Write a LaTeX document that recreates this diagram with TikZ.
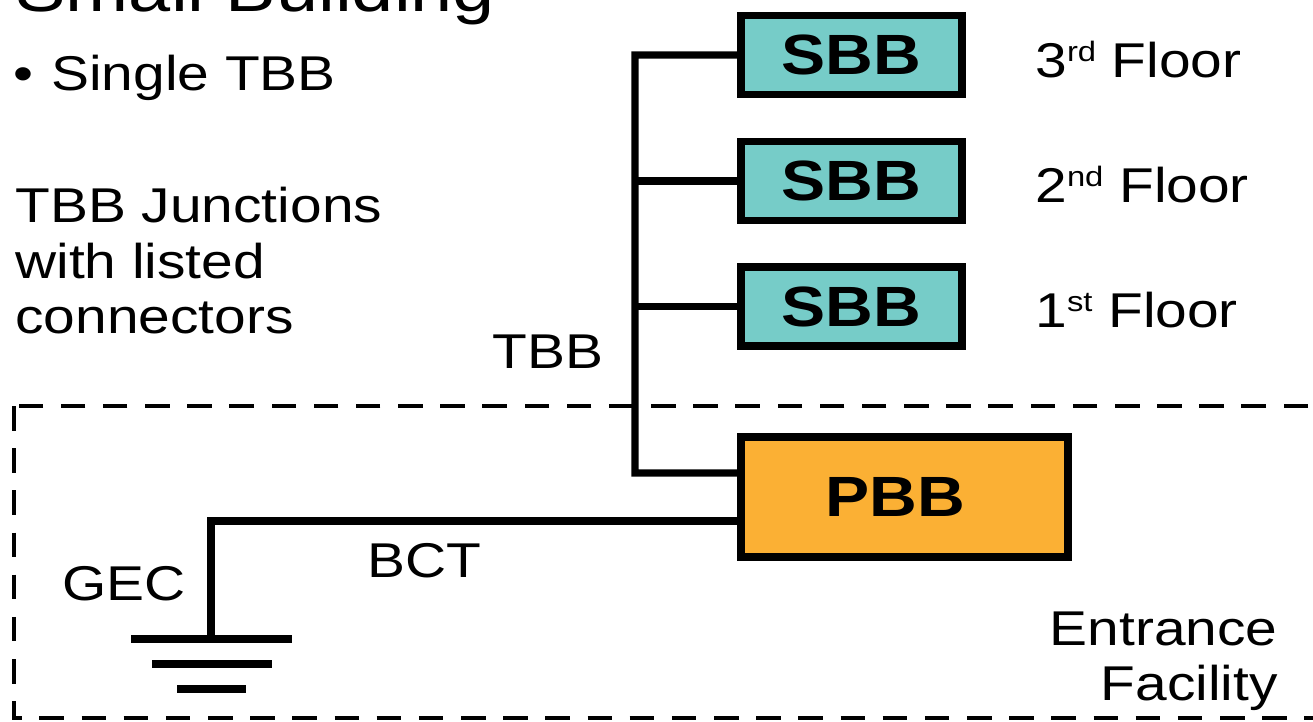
\documentclass[tikz,border=0pt]{standalone}
\usepackage{fontspec}
\setmainfont{Liberation Sans}[FakeStretch=1.165]
\definecolor{sbbteal}{HTML}{76CCC8}
\definecolor{pbborange}{HTML}{FBB034}
\newcommand\supord[1]{\raisebox{9pt}{\fontsize{16}{16}\selectfont #1}}
\begin{document}
\begin{tikzpicture}[x=0.02cm,y=-0.02cm,
  lbl/.style={inner sep=0, font=\fontsize{27.8}{33}\selectfont},
  bbox/.style={draw=black, line width=4.5pt, inner sep=0, font=\fontsize{32.3}{38}\selectfont\bfseries},
  sbbbox/.style={bbox, fill=sbbteal, minimum width=4.42cm, minimum height=1.58cm},
  pbbbox/.style={bbox, fill=pbborange, minimum width=6.54cm, minimum height=2.4cm},
  wire/.style={line width=4pt, line join=miter},
  gnd/.style={line width=4pt},
  efbox/.style={line width=2.3pt, dash pattern=on 14pt off 10pt}
]
\useasboundingbox (0,0) rectangle (1313,721);
\clip (0,0) rectangle (1313,721);

% title and left texts
\node[lbl, anchor=base west, font=\fontsize{37}{44}\selectfont] (title) at (15,11) {Small Building};
\node[lbl, anchor=base west] (bullet) at (13,90) {•\hspace{0.36cm}Single TBB};
\node[lbl, anchor=base west] (j1) at (15,222) {TBB Junctions};
\node[lbl, anchor=base west] (j2) at (15,278) {with listed};
\node[lbl, anchor=base west] (j3) at (15,333) {connectors};

% entrance facility dashed region
\draw[efbox] (14,406) rectangle (1340,718);

% boxes
\node[sbbbox] (sbb3) at (851.5,55) {\raisebox{-2pt}{SBB}};
\node[sbbbox] (sbb2) at (851.5,181) {\raisebox{-2pt}{SBB}};
\node[sbbbox] (sbb1) at (851.5,306.5) {\raisebox{-2pt}{SBB}};
\node[pbbbox] (pbb) at (904.5,497) {PBB\hspace*{0.36cm}};

% floor labels
\node[lbl, anchor=base west] (f3) at (1035,77) {3\supord{rd} Floor};
\node[lbl, anchor=base west] (f2) at (1035,202) {2\supord{nd} Floor};
\node[lbl, anchor=base west] (f1) at (1035,327) {1\supord{st} Floor};

% backbone
\coordinate (tbbtop) at (635,55);
\coordinate (tbbbot) at (635,473);
\draw[wire] (sbb3.west) -- (tbbtop) -- (tbbbot) -- ([yshift=0.48cm]pbb.west);
\draw[wire] (sbb2.west) -- (sbb2.west -| tbbtop);
\draw[wire] (sbb1.west) -- (sbb1.west -| tbbtop);
\node[lbl, anchor=base west] (tbblbl) at (492,368) {TBB};

% bonding conductor and ground
\coordinate (gec) at (211,639);
\draw[wire] ([yshift=-0.48cm]pbb.west) -| (gec);
\node[lbl, anchor=base west] (bct) at (367,577) {BCT};
\node[lbl, anchor=base west] (geclbl) at (62,600) {GEC};
\draw[gnd] (131,639) -- (292,639);
\draw[gnd] (152,664) -- (272,664);
\draw[gnd] (177,689) -- (246,689);

% entrance facility label
\node[lbl, anchor=base east] (ef1) at (1278,645) {Entrance};
\node[lbl, anchor=base east] (ef2) at (1278,700) {Facility};
\end{tikzpicture}
\end{document}
